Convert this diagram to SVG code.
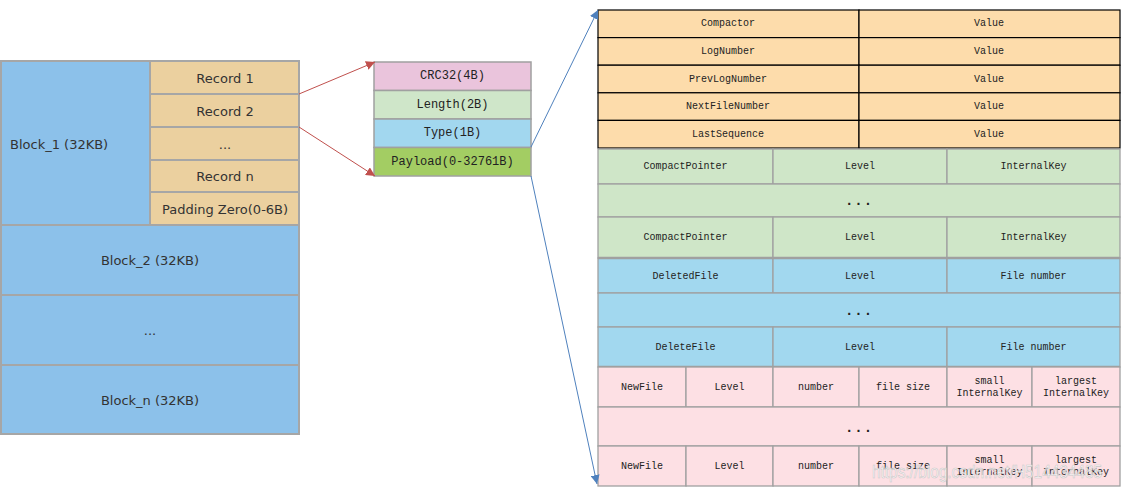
<svg xmlns="http://www.w3.org/2000/svg" width="1124" height="493" viewBox="0 0 1124 493">
<style>
.bk{fill:#8cc1ea;stroke:#a6a6a6;stroke-width:2}
.rc{fill:#ebd09f;stroke:#a6a6a6;stroke-width:2}
.lt{font-family:"DejaVu Sans",Verdana,sans-serif;font-size:13px;fill:#333;dominant-baseline:central}
.c{text-anchor:middle}
.mf{stroke:#a0a0a0;stroke-width:1.5}
.mt{font-family:"Liberation Mono","Courier New",monospace;font-size:12px;fill:#222;text-anchor:middle;dominant-baseline:central}
.tt{font-family:"Liberation Mono","Courier New",monospace;font-size:10px;fill:#222;text-anchor:middle;dominant-baseline:central}
.dd{font-family:"Liberation Mono","Courier New",monospace;font-size:14px;font-weight:bold;fill:#222;text-anchor:middle;dominant-baseline:central;letter-spacing:1px}
.or{fill:#fddcab;stroke:#000;stroke-width:1.2}
.gr{fill:#cfe6c8;stroke:#a0a0a0;stroke-width:1.3}
.bl{fill:#a2d8ef;stroke:#a0a0a0;stroke-width:1.3}
.pk{fill:#fde0e4;stroke:#a0a0a0;stroke-width:1.3}
.ra{stroke:#c0504d;stroke-width:1;fill:none}
.ba{stroke:#4f81bd;stroke-width:1;fill:none}
</style>
<defs>
<marker id="ar" viewBox="0 0 10 10" refX="10" refY="5" markerWidth="9" markerHeight="9" markerUnits="userSpaceOnUse" orient="auto"><path d="M0,0 L10,5 L0,10 z" fill="#c0504d"/></marker>
<marker id="ab" viewBox="0 0 10 10" refX="10" refY="5" markerWidth="9" markerHeight="9" markerUnits="userSpaceOnUse" orient="auto"><path d="M0,0 L10,5 L0,10 z" fill="#4f81bd"/></marker>
</defs>
<rect width="1124" height="493" fill="#fff"/>

<g id="block1"><rect class="bk" x="1" y="61" width="149" height="164"/><text class="lt" x="10" y="144">Block_1 (32KB)</text></g>
<g id="record1"><rect class="rc" x="150" y="61" width="149" height="33"/><text class="lt c" x="225" y="78">Record 1</text></g>
<g id="record2"><rect class="rc" x="150" y="94" width="149" height="33"/><text class="lt c" x="225" y="111">Record 2</text></g>
<g id="recorddots"><rect class="rc" x="150" y="127" width="149" height="33"/><text class="lt c" x="225" y="144">...</text></g>
<g id="recordn"><rect class="rc" x="150" y="160" width="149" height="32"/><text class="lt c" x="225" y="176">Record n</text></g>
<g id="padding"><rect class="rc" x="150" y="192" width="149" height="33"/><text class="lt c" x="225" y="209">Padding Zero(0-6B)</text></g>
<g id="block2"><rect class="bk" x="1" y="225" width="298" height="70"/><text class="lt c" x="150" y="260">Block_2 (32KB)</text></g>
<g id="blockdots"><rect class="bk" x="1" y="295" width="298" height="70"/><text class="lt c" x="150" y="330">...</text></g>
<g id="blockn"><rect class="bk" x="1" y="365" width="298" height="69"/><text class="lt c" x="150" y="400">Block_n (32KB)</text></g>

<g id="crc"><rect class="mf" fill="#eac4dc" x="374" y="62" width="157" height="28.5"/><text class="mt" x="452.5" y="76">CRC32(4B)</text></g>
<g id="length"><rect class="mf" fill="#cfe6c9" x="374" y="90.5" width="157" height="28.5"/><text class="mt" x="452.5" y="104.5">Length(2B)</text></g>
<g id="type"><rect class="mf" fill="#a2d7ef" x="374" y="119" width="157" height="28.5"/><text class="mt" x="452.5" y="133">Type(1B)</text></g>
<g id="payload"><rect class="mf" fill="#a3cd63" x="374" y="147.5" width="157" height="28.5"/><text class="mt" x="452.5" y="161.5">Payload(0-32761B)</text></g>

<g id="comparator"><rect class="or" x="598" y="10" width="261" height="27.6"/><rect class="or" x="859" y="10" width="261" height="27.6"/><text class="tt" x="728" y="23.8">Compactor</text><text class="tt" x="989" y="23.8">Value</text></g>
<g id="lognumber"><rect class="or" x="598" y="37.6" width="261" height="27.6"/><rect class="or" x="859" y="37.6" width="261" height="27.6"/><text class="tt" x="728" y="51.4">LogNumber</text><text class="tt" x="989" y="51.4">Value</text></g>
<g id="prevlognumber"><rect class="or" x="598" y="65.2" width="261" height="27.6"/><rect class="or" x="859" y="65.2" width="261" height="27.6"/><text class="tt" x="728" y="79">PrevLogNumber</text><text class="tt" x="989" y="79">Value</text></g>
<g id="nextfilenumber"><rect class="or" x="598" y="92.8" width="261" height="27.6"/><rect class="or" x="859" y="92.8" width="261" height="27.6"/><text class="tt" x="728" y="106.6">NextFileNumber</text><text class="tt" x="989" y="106.6">Value</text></g>
<g id="lastsequence"><rect class="or" x="598" y="120.4" width="261" height="27.6"/><rect class="or" x="859" y="120.4" width="261" height="27.6"/><text class="tt" x="728" y="134.2">LastSequence</text><text class="tt" x="989" y="134.2">Value</text></g>

<g id="compact1"><rect class="gr" x="598" y="149" width="175" height="35"/><rect class="gr" x="773" y="149" width="174" height="35"/><rect class="gr" x="947" y="149" width="173" height="35"/><text class="tt" x="685.5" y="166.5">CompactPointer</text><text class="tt" x="860" y="166.5">Level</text><text class="tt" x="1033.5" y="166.5">InternalKey</text></g>
<g id="compactdots"><rect class="gr" x="598" y="184" width="522" height="33"/><text class="dd" x="859" y="201">...</text></g>
<g id="compact2"><rect class="gr" x="598" y="217" width="175" height="41"/><rect class="gr" x="773" y="217" width="174" height="41"/><rect class="gr" x="947" y="217" width="173" height="41"/><text class="tt" x="685.5" y="237.5">CompactPointer</text><text class="tt" x="860" y="237.5">Level</text><text class="tt" x="1033.5" y="237.5">InternalKey</text></g>

<g id="deleted1"><rect class="bl" x="598" y="258" width="175" height="35"/><rect class="bl" x="773" y="258" width="174" height="35"/><rect class="bl" x="947" y="258" width="173" height="35"/><text class="tt" x="685.5" y="276">DeletedFile</text><text class="tt" x="860" y="276">Level</text><text class="tt" x="1033.5" y="276">File number</text></g>
<g id="deleteddots"><rect class="bl" x="598" y="293" width="522" height="34"/><text class="dd" x="859" y="311">...</text></g>
<g id="deleted2"><rect class="bl" x="598" y="327" width="175" height="40"/><rect class="bl" x="773" y="327" width="174" height="40"/><rect class="bl" x="947" y="327" width="173" height="40"/><text class="tt" x="685.5" y="347">DeleteFile</text><text class="tt" x="860" y="347">Level</text><text class="tt" x="1033.5" y="347">File number</text></g>
<line x1="598" y1="258" x2="1120" y2="258" stroke="#a0a0a0" stroke-width="2.5"/>
<line x1="598" y1="367" x2="1120" y2="367" stroke="#a0a0a0" stroke-width="2.5"/>

<g id="newfile1"><rect class="pk" x="598" y="367" width="88" height="40"/><rect class="pk" x="686" y="367" width="87" height="40"/><rect class="pk" x="773" y="367" width="86" height="40"/><rect class="pk" x="859" y="367" width="88" height="40"/><rect class="pk" x="947" y="367" width="85" height="40"/><rect class="pk" x="1032" y="367" width="88" height="40"/>
<text class="tt" x="642" y="387">NewFile</text><text class="tt" x="729.5" y="387">Level</text><text class="tt" x="816" y="387">number</text><text class="tt" x="903" y="387">file size</text><text class="tt" x="989.5" y="381">small</text><text class="tt" x="989.5" y="393.5">InternalKey</text><text class="tt" x="1076" y="381">largest</text><text class="tt" x="1076" y="393.5">InternalKey</text></g>
<g id="newfiledots"><rect class="pk" x="598" y="407" width="522" height="39"/><text class="dd" x="859" y="428">...</text></g>
<g id="newfile2"><rect class="pk" x="598" y="446" width="88" height="40"/><rect class="pk" x="686" y="446" width="87" height="40"/><rect class="pk" x="773" y="446" width="86" height="40"/><rect class="pk" x="859" y="446" width="88" height="40"/><rect class="pk" x="947" y="446" width="85" height="40"/><rect class="pk" x="1032" y="446" width="88" height="40"/>
<text class="tt" x="642" y="466">NewFile</text><text class="tt" x="729.5" y="466">Level</text><text class="tt" x="816" y="466">number</text><text class="tt" x="903" y="466">file size</text><text class="tt" x="989.5" y="460">small</text><text class="tt" x="989.5" y="472.5">InternalKey</text><text class="tt" x="1076" y="460">largest</text><text class="tt" x="1076" y="472.5">InternalKey</text></g>

<g id="connectors">
<line class="ra" x1="299" y1="94" x2="375" y2="62" marker-end="url(#ar)"/>
<line class="ra" x1="299" y1="127" x2="375" y2="176" marker-end="url(#ar)"/>
<line class="ba" x1="531" y1="147" x2="598" y2="10" marker-end="url(#ab)"/>
<line class="ba" x1="531" y1="176" x2="597" y2="484" marker-end="url(#ab)"/>
</g>

<text x="872" y="478" font-family="'Liberation Sans',Arial,sans-serif" font-size="18" textLength="230" lengthAdjust="spacingAndGlyphs" fill="#ffffff" fill-opacity="0.75" stroke="#c8c8c8" stroke-width="0.6">https://blog.csdn.net/H514434485</text>
</svg>
